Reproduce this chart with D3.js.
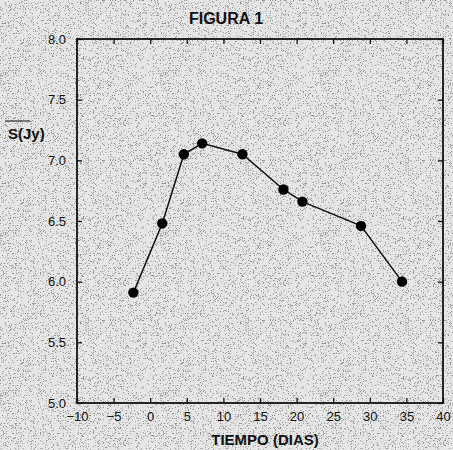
<!DOCTYPE html>
<html>
<head>
<meta charset="utf-8">
<script src="https://cdn.jsdelivr.net/npm/d3@7"></script>
<style>
  body { margin: 0; background: #e3e3e3; }
  svg { display: block; }
  text { font-family: "Liberation Sans", Arial, sans-serif; fill: #111; }
</style>
</head>
<body>
<div id="chart"></div>
<script>
// data
var dias = [-2.3, 1.65, 4.6, 7.1, 12.6, 18.2, 20.8, 28.8, 34.4];
var flujo = [5.91, 6.48, 7.05, 7.14, 7.05, 6.76, 6.66, 6.46, 6.0];
var xTicks = [-10, -5, 0, 5, 10, 15, 20, 25, 30, 35, 40];
var yTicks = [5.0, 5.5, 6.0, 6.5, 7.0, 7.5, 8.0];

var W = 453, H = 450;
var margin = { top: 39, right: 10, bottom: 47, left: 77 },
    width = W - margin.left - margin.right,
    height = H - margin.top - margin.bottom;

var svg = d3.select("#chart")
    .append("svg")
    .attr("width", W)
    .attr("height", H);

// light speckle, like the scan
var defs = svg.append("defs");
var f = defs.append("filter").attr("id", "grain").attr("x", 0).attr("y", 0).attr("width", "100%").attr("height", "100%");
f.append("feTurbulence").attr("type", "fractalNoise").attr("baseFrequency", 1.6).attr("numOctaves", 1).attr("seed", 7);
f.append("feColorMatrix").attr("type", "matrix")
    .attr("values", "0 0 0 0 0  0 0 0 0 0  0 0 0 0 0  14 0 0 0 -8.2");
svg.append("rect").attr("width", W).attr("height", H).attr("fill", "#e6e6e6");
svg.append("rect").attr("width", W).attr("height", H).attr("filter", "url(#grain)").attr("opacity", 0.35);

var g = svg.append("g")
    .attr("transform", "translate(" + margin.left + "," + margin.top + ")");

var x = d3.scaleLinear().domain([-10, 40]).range([0, width]);
var y = d3.scaleLinear().domain([5, 8]).range([height, 0]);

// frame
g.append("rect")
    .attr("width", width)
    .attr("height", height)
    .attr("fill", "none")
    .attr("stroke", "#111")
    .attr("stroke-width", 1.8);

// ticks, all pointing inward
g.append("g")
    .attr("transform", "translate(0," + height + ")")
    .call(d3.axisBottom(x).tickValues(xTicks).tickSizeInner(-5).tickSizeOuter(0).tickPadding(9)
        .tickFormat(function(d) { return d < 0 ? "\u2212" + Math.abs(d) : d; }))
    .call(function(a) { a.select(".domain").remove(); });
g.append("g")
    .call(d3.axisTop(x).tickValues(xTicks).tickSizeInner(-5).tickSizeOuter(0).tickFormat(""))
    .call(function(a) { a.select(".domain").remove(); });
g.append("g")
    .call(d3.axisLeft(y).tickValues(yTicks).tickSizeInner(-5).tickSizeOuter(0).tickPadding(11)
        .tickFormat(d3.format(".1f")))
    .call(function(a) { a.select(".domain").remove(); });
g.append("g")
    .attr("transform", "translate(" + width + ",0)")
    .call(d3.axisRight(y).tickValues(yTicks).tickSizeInner(-5).tickSizeOuter(0).tickFormat(""))
    .call(function(a) { a.select(".domain").remove(); });

g.selectAll(".tick line").attr("stroke", "#111").attr("stroke-width", 1.3);
g.selectAll(".tick text").style("font-size", "13px").attr("fill", "#222");

// series
var pts = dias.map(function(d, i) { return [d, flujo[i]]; });
g.append("path")
    .datum(pts)
    .attr("fill", "none")
    .attr("stroke", "#111")
    .attr("stroke-width", 1.5)
    .attr("d", d3.line().x(function(d) { return x(d[0]); }).y(function(d) { return y(d[1]); }));

g.selectAll("circle")
    .data(pts)
    .enter()
    .append("circle")
    .attr("cx", function(d) { return x(d[0]); })
    .attr("cy", function(d) { return y(d[1]); })
    .attr("r", 5.2)
    .attr("fill", "#000");

// labels
svg.append("text")
    .attr("x", 226).attr("y", 24)
    .attr("text-anchor", "middle")
    .style("font-size", "16px").style("font-weight", "bold")
    .text("FIGURA 1");

svg.append("text")
    .attr("x", 265).attr("y", 445)
    .attr("text-anchor", "middle")
    .style("font-size", "15px").style("font-weight", "bold")
    .text("TIEMPO (DIAS)");

svg.append("text")
    .attr("x", 8).attr("y", 139)
    .style("font-size", "15px").style("font-weight", "bold")
    .text("S(Jy)");
svg.append("line")
    .attr("x1", 5).attr("x2", 30).attr("y1", 121).attr("y2", 121)
    .attr("stroke", "#111").attr("stroke-width", 1);
</script>
</body>
</html>
